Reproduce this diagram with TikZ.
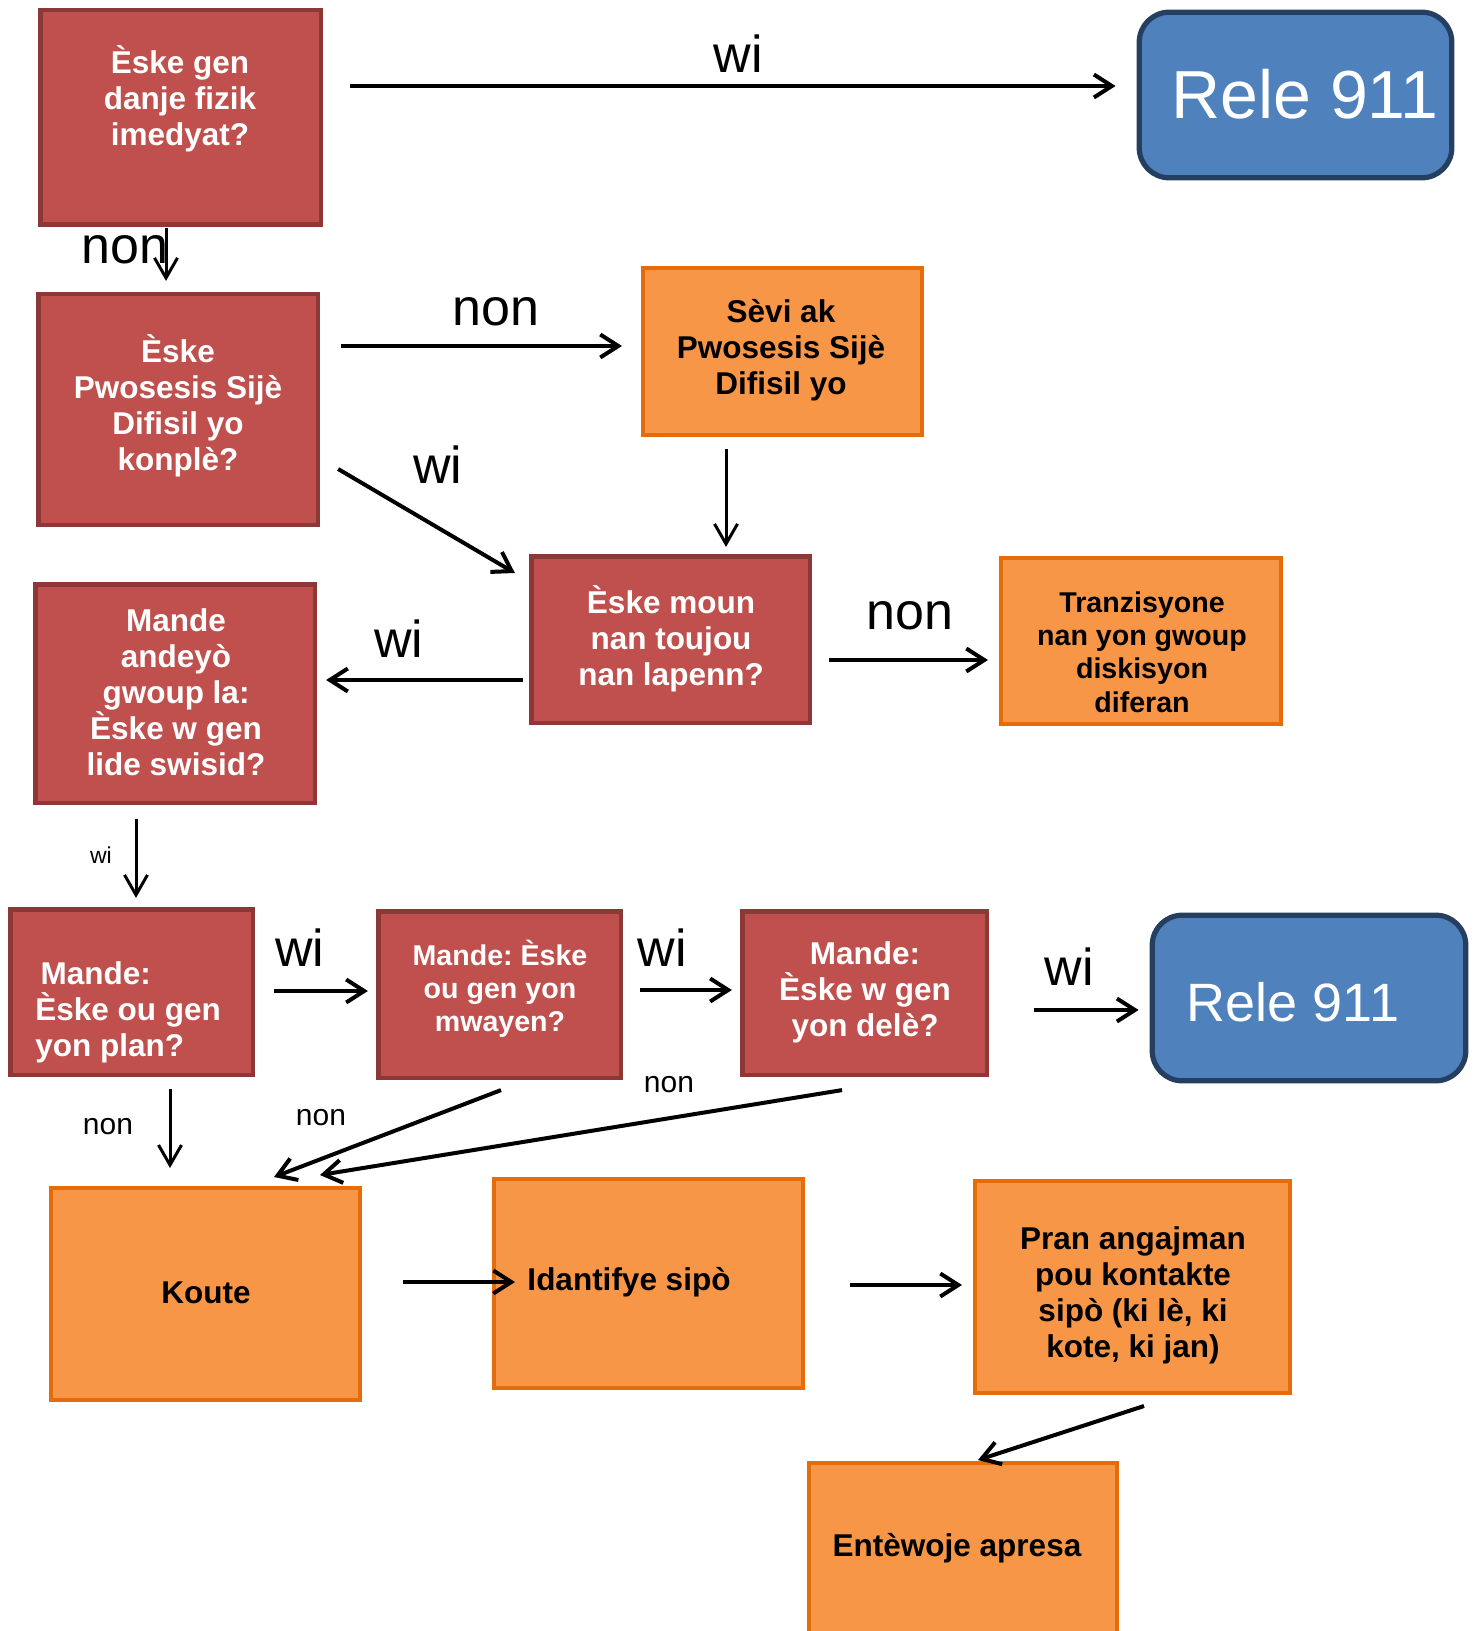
\documentclass[tikz,border=0pt]{standalone}
\usepackage{fontspec}
\setmainfont{Liberation Sans}
\usetikzlibrary{arrows.meta}
\frenchspacing
\definecolor{rfill}{HTML}{C0504D}
\definecolor{rborder}{HTML}{8C3836}
\definecolor{ofill}{HTML}{F79646}
\definecolor{oborder}{HTML}{E46C0A}
\definecolor{bfill}{HTML}{4F81BD}
\definecolor{bborder}{HTML}{243F60}
\tikzset{
  sz/.style 2 args={minimum width=#1*0.5pt-2.2pt, minimum height=#2*0.5pt-2.2pt, inner sep=0pt},
  redbox/.style={draw=rborder, fill=rfill, line width=2.3pt},
  orgbox/.style={draw=oborder, fill=ofill, line width=2.2pt},
  bluebox/.style={draw=bborder, fill=bfill, line width=2.6pt, rounded corners=15pt},
  wtxt/.style={text=white, font=\bfseries\fontsize{15.75}{18}\selectfont, align=center, inner sep=0pt},
  btxt/.style={text=black, font=\bfseries\fontsize{15.75}{18}\selectfont, align=center, inner sep=0pt},
  smallbox/.style={font=\bfseries\fontsize{14.3}{16.6}\selectfont},
  arr/.style={-{Straight Barb[length=9pt,width=11.5pt]}, line width=2pt},
  thinarr/.style={-{Straight Barb[length=10pt,width=11.5pt]}, line width=1.5pt},
  biglbl/.style={font=\fontsize{26}{30}\selectfont, inner sep=0pt},
  smalllbl/.style={font=\fontsize{15}{18}\selectfont, inner sep=0pt},
  tinylbl/.style={font=\fontsize{11.5}{14}\selectfont, inner sep=0pt},
}
\begin{document}
\begin{tikzpicture}[x=0.5pt,y=-0.5pt]
\useasboundingbox (0,0) rectangle (1481,1631);
\clip (0,0) rectangle (1481,1631);
% boxes
\node[redbox, sz={285}{219}] (A) at (180.5,117.5) {};
\node[bluebox, sz={317}{170}] (RA) at (1295.5,95) {};
\node[redbox, sz={284}{235}] (B) at (178,409.5) {};
\node[orgbox, sz={283}{171}] (C) at (782.5,351.5) {};
\node[redbox, sz={283}{171}] (D) at (670.5,639.5) {};
\node[orgbox, sz={284}{170}] (E) at (1141,641) {};
\node[redbox, sz={284}{223}] (F) at (175,693.5) {};
\node[redbox, sz={247}{170}] (G) at (131.5,992) {};
\node[redbox, sz={247}{171}] (H) at (499.5,994.5) {};
\node[redbox, sz={249}{168}] (I) at (864.5,993) {};
\node[bluebox, sz={318}{170}] (RB) at (1309,998) {};
\node[orgbox, sz={313}{216}] (K) at (205.5,1294) {};
\node[orgbox, sz={313}{213}] (L) at (648.5,1283.5) {};
\node[orgbox, sz={319}{216}] (M) at (1132.5,1287) {};
\node[orgbox, sz={312}{180}] (N) at (963,1551) {};
% box texts
\node[wtxt] (tA) at (180,99) {Èske gen\\danje fizik\\imedyat?};
\node[text=white, font=\fontsize{34}{40}\selectfont, inner sep=0pt] (tRA) at (1305,94) {Rele 911};
\node[wtxt] (tB) at (178,406) {Èske\\Pwosesis Sijè\\Difisil yo\\konplè?};
\node[btxt] (tC) at (781,350) {Sèvi ak\\Pwosesis Sijè\\Difisil yo};
\node[wtxt] (tD) at (671,639) {Èske moun\\nan toujou\\nan lapenn?};
\node[btxt, smallbox] (tE) at (1142,652) {Tranzisyone\\nan yon gwoup\\diskisyon\\diferan};
\node[wtxt] (tF) at (176,692) {Mande\\andeyò\\gwoup la:\\Èske w gen\\lide swisid?};
\node[wtxt, align=left, anchor=west] (tG) at (35,1012) {\,Mande:\\Èske ou gen\\yon plan?};
\node[wtxt, smallbox] (tH) at (500,989) {Mande: Èske\\ou gen yon\\mwayen?};
\node[wtxt] (tI) at (865,992) {Mande:\\Èske w gen\\yon delè?};
\node[text=white, font=\fontsize{27}{32}\selectfont, inner sep=0pt] (tRB) at (1293,1002) {Rele 911};
\node[btxt] (tK) at (206,1293) {Koute};
\node[btxt] (tL) at (629,1282) {Idantifye sipò};
\node[btxt] (tM) at (1133,1295) {Pran angajman\\pou kontakte\\sipò (ki lè, ki\\kote, ki jan)};
\node[btxt] (tN) at (957,1548) {Entèwoje apresa};
% connectors
\draw[arr] ([shift={(27,-31.5)}]A.east) -- ([shift={(-21,-9)}]RA.west);
\draw[thinarr] ([shift={(-14.5,1)}]A.south) -- ([shift={(-12,-11)}]B.north);
\draw[arr] ([shift={(21,-63.5)}]B.east) -- ([shift={(-19,-5.5)}]C.west);
\draw[thinarr] ([shift={(-56.5,12)}]C.south) -- ([shift={(55.5,-7)}]D.north);
\draw[arr] ([shift={(18,59.5)}]B.east) -- ([shift={(-14,-66.5)}]D.west);
\draw[arr] ([shift={(17,20.5)}]D.east) -- ([shift={(-11,19)}]E.west);
\draw[arr] ([shift={(-6,40.5)}]D.west) -- ([shift={(9,-13.5)}]F.east);
\draw[thinarr] ([shift={(-39,14)}]F.south) -- ([shift={(4.5,-9)}]G.north);
\draw[arr] ([shift={(19,-1)}]G.east) -- ([shift={(-8,-3.5)}]H.west);
\draw[arr] ([shift={(17,-4.5)}]H.east) -- ([shift={(-8,-3)}]I.west);
\draw[arr] ([shift={(45,17)}]I.east) -- ([shift={(-11,12)}]RB.west);
\draw[thinarr] ([shift={(38.5,12)}]G.south) -- ([shift={(-35.5,-18)}]K.north);
\draw[arr] ([shift={(1.5,10)}]H.south) -- ([shift={(68.5,-9)}]K.north);
\draw[arr] ([shift={(-22.5,13)}]I.south) -- ([shift={(114.5,-11)}]K.north);
\draw[arr] ([shift={(41,-12)}]K.east) -- ([shift={(23,-1.5)}]L.west);
\draw[arr] ([shift={(45,1.5)}]L.east) -- ([shift={(-11,-2)}]M.west);
\draw[arr] ([shift={(11.5,11)}]M.south) -- ([shift={(15,-1)}]N.north);
% labels
\node[biglbl] (l1) at (738,54) {wi};
\node[biglbl] (l2) at (125,250) {non};
\node[biglbl] (l3) at (496,312) {non};
\node[biglbl] (l4) at (438,465) {wi};
\node[biglbl] (l5) at (910,616) {non};
\node[biglbl] (l6) at (399,639) {wi};
\node[tinylbl] (l7) at (101,855) {wi};
\node[biglbl] (l8) at (300,948) {wi};
\node[biglbl] (l9) at (662,948) {wi};
\node[biglbl] (l10) at (1069,967) {wi};
\node[smalllbl] (l11) at (108,1127) {non};
\node[smalllbl] (l12) at (321,1118) {non};
\node[smalllbl] (l13) at (669,1085) {non};
\end{tikzpicture}
\end{document}
